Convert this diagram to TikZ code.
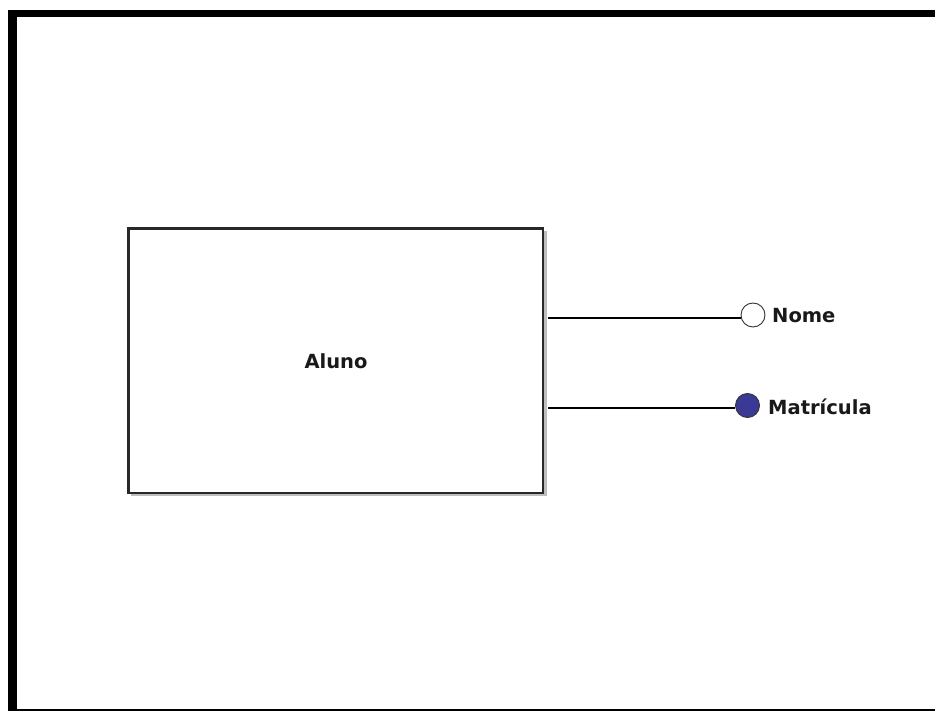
\documentclass[tikz,border=0pt]{standalone}
\usepackage{fontspec}
\setmainfont{DejaVu Sans}
\definecolor{boxline}{RGB}{40,40,40}
\definecolor{shadowgray}{RGB}{190,190,190}
\definecolor{keyblue}{RGB}{58,58,150}
\begin{document}
\begin{tikzpicture}[x=1pt,y=-1pt,
  lbl/.style={font=\fontsize{19.5}{23}\selectfont\bfseries, text=black!90, inner sep=0pt},
  entbox/.style={draw=boxline, line width=2.5pt, fill=white, minimum width=414.5pt, minimum height=264.5pt, inner sep=0pt},
  attr/.style={circle, draw=black!80, line width=0.9pt, minimum size=24pt, inner sep=0pt},
  conn/.style={draw=black, line width=1.8pt}]
\useasboundingbox (0,0) rectangle (935,711);
\fill[white] (0,0) rectangle (935,711);
% frame
\fill[black] (8,10) rectangle (935,17);
\fill[black] (8,10) rectangle (17,711);
\fill[black] (16,709) rectangle (935,711);
% shadow
\fill[shadowgray] (131,231) rectangle (547,496);
% entity
\node[entbox] (aluno) at (335.75,360.75) {};
\node[lbl, anchor=base] (alunotxt) at (336,369) {Aluno};
% attributes
\node[attr, fill=white] (nome) at (753,315) {};
\node[attr, fill=keyblue] (mat) at (747.5,405.5) {};
\node[lbl, anchor=base west] (nometxt) at (772,323) {Nome};
\node[lbl, anchor=base west] (mattxt) at (768,414) {Matrícula};
% connectors
\coordinate (c1) at (548,318);
\coordinate (c2) at (548,408);
\draw[conn] (c1) -- (nome.west |- c1);
\draw[conn] (c2) -- (mat.west |- c2);
\end{tikzpicture}
\end{document}
